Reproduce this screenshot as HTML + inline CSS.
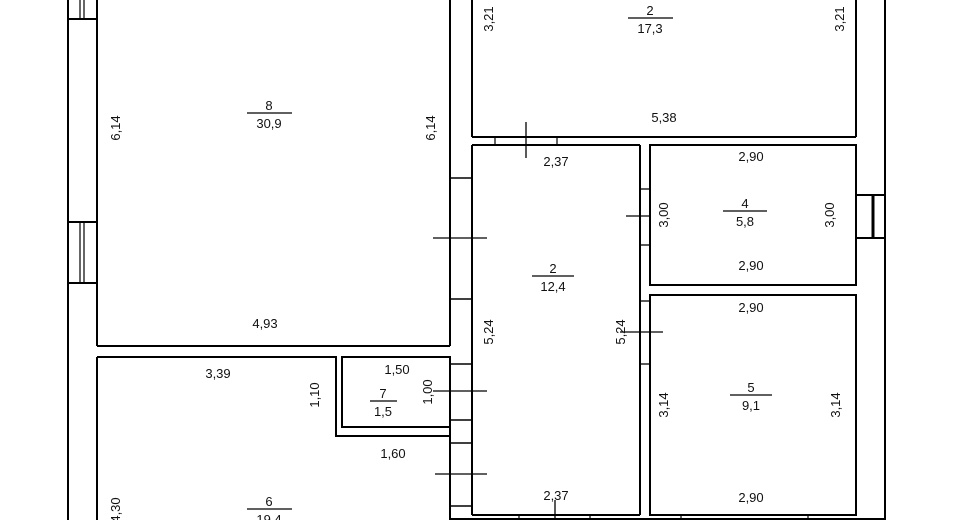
<!DOCTYPE html>
<html><head><meta charset="utf-8"><style>
html,body{margin:0;padding:0;background:#fff;width:965px;height:520px;overflow:hidden}
svg text{font-family:"Liberation Sans",sans-serif;font-size:13px;fill:#111}
</style></head><body>
<svg width="965" height="520" viewBox="0 0 965 520" xmlns="http://www.w3.org/2000/svg">
<g stroke="#000" stroke-width="2" fill="none">
<!-- outer left wall -->
<line x1="68" y1="0" x2="68" y2="520"/>
<line x1="97" y1="0" x2="97" y2="346"/>
<line x1="97" y1="357" x2="97" y2="520"/>
<!-- left windows -->
<line x1="68" y1="19" x2="97" y2="19"/>
<line x1="80" y1="0" x2="80" y2="19" stroke-width="1.2"/>
<line x1="84" y1="0" x2="84" y2="19" stroke-width="1.2"/>
<line x1="68" y1="222" x2="97" y2="222"/>
<line x1="68" y1="283" x2="97" y2="283"/>
<line x1="80" y1="222" x2="80" y2="283" stroke-width="1.2"/>
<line x1="84" y1="222" x2="84" y2="283" stroke-width="1.2"/>
<!-- room 8 -->
<line x1="97" y1="346" x2="450" y2="346"/>
<line x1="450" y1="0" x2="450" y2="346"/>
<!-- corridor wall -->
<line x1="450" y1="357" x2="450" y2="520"/>
<line x1="472" y1="0" x2="472" y2="137"/>
<line x1="472" y1="145" x2="472" y2="515"/>
<line x1="450" y1="178" x2="472" y2="178" stroke-width="1.5"/>
<line x1="450" y1="299" x2="472" y2="299" stroke-width="1.5"/>
<line x1="450" y1="364" x2="472" y2="364" stroke-width="1.5"/>
<line x1="450" y1="420" x2="472" y2="420" stroke-width="1.5"/>
<line x1="450" y1="443" x2="472" y2="443" stroke-width="1.5"/>
<line x1="450" y1="506" x2="472" y2="506" stroke-width="1.5"/>
<line x1="433" y1="238" x2="487" y2="238" stroke-width="1.3"/>
<line x1="433" y1="391" x2="487" y2="391" stroke-width="1.3"/>
<line x1="435" y1="474" x2="487" y2="474" stroke-width="1.3"/>
<!-- room 6 / 7 -->
<polyline points="97,357 336,357 336,436 450,436"/>
<rect x="342" y="357" width="108" height="70"/>
<!-- room 2 top -->
<line x1="472" y1="137" x2="856" y2="137"/>
<line x1="856" y1="0" x2="856" y2="137"/>
<line x1="472" y1="145" x2="640" y2="145"/>
<line x1="495" y1="137" x2="495" y2="145" stroke-width="1.2"/>
<line x1="557" y1="137" x2="557" y2="145" stroke-width="1.2"/>
<line x1="526" y1="122" x2="526" y2="158" stroke-width="1.3"/>
<!-- corridor right -->
<line x1="640" y1="145" x2="640" y2="515"/>
<line x1="472" y1="515" x2="640" y2="515"/>
<line x1="640" y1="189" x2="650" y2="189" stroke-width="1.3"/>
<line x1="640" y1="245" x2="650" y2="245" stroke-width="1.3"/>
<line x1="626" y1="216" x2="650" y2="216" stroke-width="1.3"/>
<line x1="640" y1="301" x2="650" y2="301" stroke-width="1.3"/>
<line x1="640" y1="364" x2="650" y2="364" stroke-width="1.3"/>
<line x1="620" y1="332" x2="663" y2="332" stroke-width="1.3"/>
<!-- room 4 -->
<rect x="650" y="145" width="206" height="140"/>
<!-- room 5 -->
<rect x="650" y="295" width="206" height="220"/>
<!-- right outer wall -->
<line x1="885" y1="0" x2="885" y2="520"/>
<line x1="856" y1="195" x2="885" y2="195"/>
<line x1="856" y1="238" x2="885" y2="238"/>
<line x1="873" y1="195" x2="873" y2="238" stroke-width="3"/>
<!-- bottom -->
<line x1="450" y1="519" x2="885" y2="519"/>
<line x1="519" y1="515" x2="519" y2="520" stroke-width="1.2"/>
<line x1="590" y1="515" x2="590" y2="520" stroke-width="1.2"/>
<line x1="681" y1="515" x2="681" y2="520" stroke-width="1.2"/>
<line x1="808" y1="515" x2="808" y2="520" stroke-width="1.2"/>
<line x1="555" y1="500" x2="555" y2="520" stroke-width="1.3"/>
<!-- fraction lines -->
<line x1="247" y1="113" x2="292" y2="113" stroke-width="1.3"/>
<line x1="628" y1="18" x2="673" y2="18" stroke-width="1.3"/>
<line x1="723" y1="211" x2="767" y2="211" stroke-width="1.3"/>
<line x1="532" y1="276" x2="574" y2="276" stroke-width="1.3"/>
<line x1="730" y1="395" x2="772" y2="395" stroke-width="1.3"/>
<line x1="370" y1="401" x2="397" y2="401" stroke-width="1.3"/>
<line x1="247" y1="509" x2="292" y2="509" stroke-width="1.3"/>
</g>
<g text-anchor="middle">
<text x="269" y="110">8</text><text x="269" y="128">30,9</text>
<text x="650" y="15">2</text><text x="650" y="33">17,3</text>
<text x="745" y="208">4</text><text x="745" y="226">5,8</text>
<text x="553" y="273">2</text><text x="553" y="291">12,4</text>
<text x="751" y="392">5</text><text x="751" y="410">9,1</text>
<text x="383" y="398">7</text><text x="383" y="416">1,5</text>
<text x="269" y="506">6</text><text x="269" y="524">19,4</text>
<text x="265" y="328">4,93</text>
<text x="664" y="122">5,38</text>
<text x="556" y="166">2,37</text>
<text x="751" y="161">2,90</text>
<text x="751" y="270">2,90</text>
<text x="751" y="312">2,90</text>
<text x="751" y="502">2,90</text>
<text x="556" y="500">2,37</text>
<text x="218" y="378">3,39</text>
<text x="393" y="458">1,60</text>
<text x="397" y="374">1,50</text>
<text transform="translate(120,128) rotate(-90)">6,14</text>
<text transform="translate(435,128) rotate(-90)">6,14</text>
<text transform="translate(493,19) rotate(-90)">3,21</text>
<text transform="translate(844,19) rotate(-90)">3,21</text>
<text transform="translate(668,215) rotate(-90)">3,00</text>
<text transform="translate(834,215) rotate(-90)">3,00</text>
<text transform="translate(493,332) rotate(-90)">5,24</text>
<text transform="translate(625,332) rotate(-90)">5,24</text>
<text transform="translate(668,405) rotate(-90)">3,14</text>
<text transform="translate(840,405) rotate(-90)">3,14</text>
<text transform="translate(319,395) rotate(-90)">1,10</text>
<text transform="translate(432,392) rotate(-90)">1,00</text>
<text transform="translate(120,510) rotate(-90)">4,30</text>
</g>
</svg>
</body></html>
